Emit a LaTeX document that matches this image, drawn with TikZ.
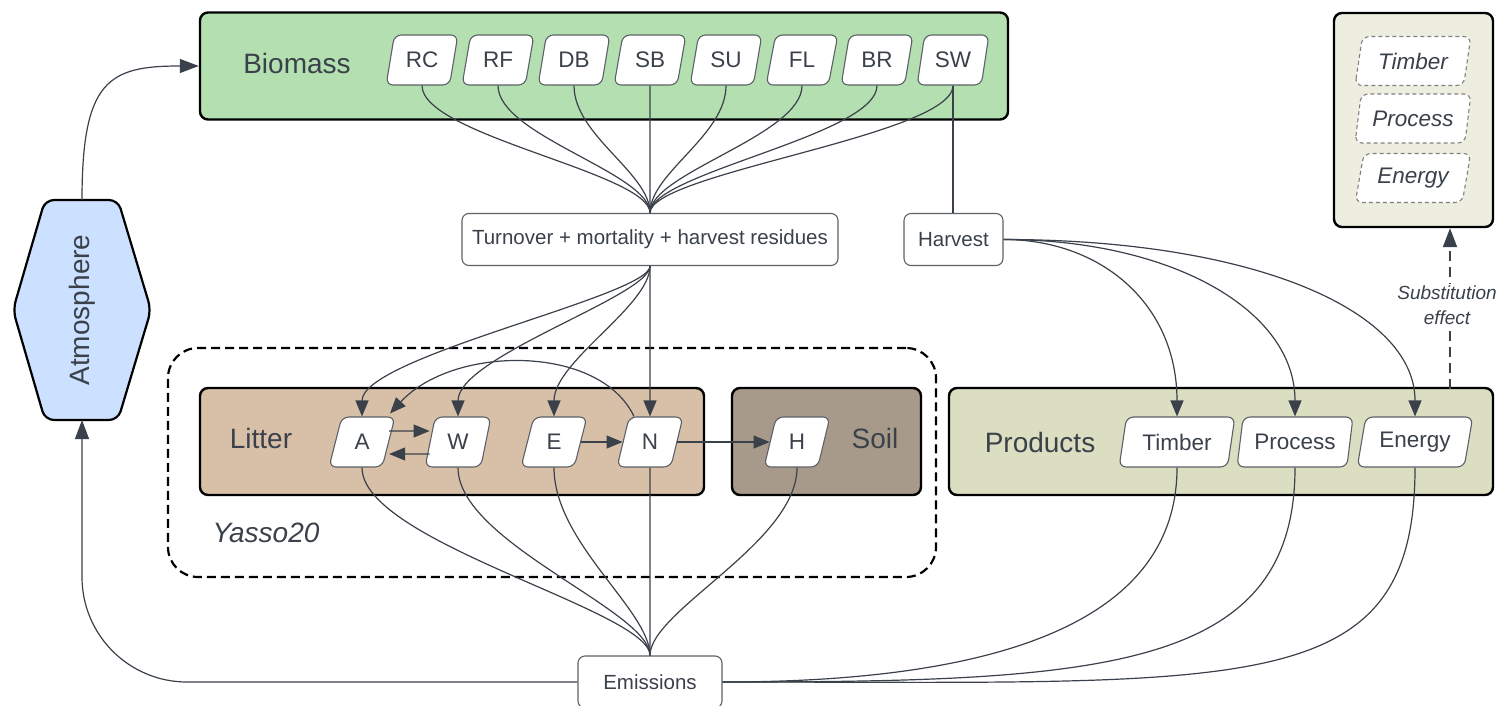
\documentclass[tikz,border=0pt]{standalone}
\usepackage{fontspec}
\setmainfont{Liberation Sans}
\usetikzlibrary{arrows.meta,shapes.geometric,calc}

\definecolor{ink}{HTML}{3A414A}
\definecolor{edgegray}{HTML}{5C6167}
\definecolor{biofill}{HTML}{B4DFB0}
\definecolor{atmfill}{HTML}{CCE1FF}
\definecolor{litfill}{HTML}{D8BFA8}
\definecolor{soilfill}{HTML}{A89A8A}
\definecolor{prodfill}{HTML}{DBDEC0}
\definecolor{subfill}{HTML}{EEEEE0}

\newcommand\bigfont{\fontsize{28}{33}\selectfont}
\newcommand\chipfont{\fontsize{22.5}{27}\selectfont}
\newcommand\midfont{\fontsize{20.5}{24}\selectfont}
\newcommand\notefont{\fontsize{19}{25}\selectfont\itshape}

\begin{document}
\begin{tikzpicture}[x=1pt,y=-1pt,
  panel/.style={draw=black, line width=2.4pt, rounded corners=8pt, inner sep=0pt},
  chip/.style={trapezium, trapezium left angle=73, trapezium right angle=107,
    trapezium stretches=true, minimum width=66pt, minimum height=50pt,
    rounded corners=7pt, draw=edgegray, fill=white, line width=1.1pt,
    inner sep=0pt, font=\chipfont, text=ink},
  biochip/.style={chip, minimum width=72pt},
  widechip/.style={chip, minimum width=116pt},
  ghostchip/.style={widechip, minimum height=49pt, draw=gray,
    dash pattern=on 4pt off 3pt, font=\chipfont\itshape},
  flowbox/.style={draw=edgegray, line width=1.1pt, rounded corners=7pt,
    fill=white, minimum height=52pt, inner sep=0pt, font=\midfont, text=ink},
  lbl/.style={font=\bigfont, text=ink},
  link/.style={draw=ink, line width=1.2pt},
  arr/.style={link, -{Triangle[length=16pt,width=13pt]}},
  bigarr/.style={link, -{Triangle[length=19pt,width=14pt]}}
]
\useasboundingbox (0,0) rectangle (1501,706);

% ---------- panels ----------
\node[panel, fill=biofill, minimum width=808pt, minimum height=107pt] (bio) at (604,66) {};
\node[lbl] (biolbl) at (297,63) {Biomass};

\node[draw, line width=2.2pt, dash pattern=on 9pt off 5pt, rounded corners=30pt,
      minimum width=768pt, minimum height=229pt] (yasso) at (552,462.5) {};
\node[lbl, font=\bigfont\itshape] (yassolbl) at (266,533) {Yasso20};

\node[panel, fill=litfill, minimum width=504pt, minimum height=107pt] (litter) at (452,441.5) {};
\node[lbl] (litlbl) at (261,438) {Litter};
\node[panel, fill=soilfill, minimum width=189pt, minimum height=107pt] (soil) at (826.5,441.5) {};
\node[lbl] (soillbl) at (875,438) {Soil};

\node[panel, fill=prodfill, minimum width=544pt, minimum height=107pt] (prod) at (1221,441.5) {};
\node[lbl] (prodlbl) at (1040,442) {Products};

\node[panel, fill=subfill, minimum width=159pt, minimum height=214pt] (sub) at (1413.5,120) {};

% ---------- atmosphere ----------
\draw[line width=2.2pt, fill=atmfill, rounded corners=9pt]
  (45,200) -- (118,200) -- (151,310) -- (118,420) -- (45,420) -- (13,310) -- cycle;
\node[lbl, rotate=90] (atm) at (82,310) {Atmosphere};
\coordinate (atmtop) at (82,200);
\coordinate (atmbot) at (82,420);

% ---------- biomass pools ----------
\node[biochip] (rc) at (422,60) {RC};
\node[biochip] (rf) at (498,60) {RF};
\node[biochip] (db) at (574,60) {DB};
\node[biochip] (sb) at (650,60) {SB};
\node[biochip] (su) at (726,60) {SU};
\node[biochip] (fl) at (802,60) {FL};
\node[biochip] (br) at (877,60) {BR};
\node[biochip] (sw) at (953,60) {SW};

% ---------- flow boxes ----------
\node[flowbox, minimum width=376pt] (turn) at (650,239.5) {Turnover + mortality + harvest residues};
\node[flowbox, minimum width=99pt] (harv) at (953.5,239.5) {Harvest};
\node[flowbox, minimum width=144pt] (em) at (650,682) {Emissions};

% ---------- litter and soil pools ----------
\node[chip] (a) at (362,442) {A};
\node[chip] (w) at (458,442) {W};
\node[chip] (e) at (554,442) {E};
\node[chip] (n) at (650,442) {N};
\node[chip] (h) at (797,442) {H};

% ---------- product pools ----------
\node[widechip] (tim) at (1177,442) {Timber};
\node[widechip] (proc) at (1295,442) {Process};
\node[widechip] (ener) at (1415,442) {Energy};

% ---------- substituted products ----------
\node[ghostchip] (stim) at (1413,61) {Timber};
\node[ghostchip] (sproc) at (1413,118.5) {Process};
\node[ghostchip] (sener) at (1413,178) {Energy};

% ---------- biomass to turnover / harvest ----------
\foreach \k in {rc,rf,db,su,fl,br,sw}
  \draw[link] (\k.south) .. controls +(0,50) and +(0,-40) .. (turn.north);
\draw[link] (sb.south) -- (turn.north);
\draw[link] (sw.south) -- (sw.south |- harv.north);

% ---------- turnover to litter ----------
\draw[arr] (turn.south) .. controls +(0,30) and +(0,-60) .. (a.north);
\draw[arr] (turn.south) .. controls +(0,30) and +(0,-60) .. (w.north);
\draw[arr] (turn.south) .. controls +(0,40) and +(0,-55) .. (e.north);
\draw[arr] (turn.south) -- (n.north);
\draw[arr] ([xshift=-16pt]n.north) .. controls +(-34,-72) and +(64,-69) .. ([xshift=28pt,yshift=3pt]a.north);

% ---------- transfers between pools ----------
\draw[arr] ([yshift=11pt]a.east) -- ([yshift=11pt]w.west);
\draw[arr] ([yshift=-12pt]w.west) -- ([yshift=-12pt]a.east);
\draw[arr] (e.east) -- (n.west);
\draw[arr] (n.east) -- (h.west);

% ---------- decomposition to emissions ----------
\foreach \k in {a,w,e,h}
  \draw[link] (\k.south) .. controls +(0,75) and +(0,-45) .. (em.north);
\draw[link] (n.south) -- (em.north);

% ---------- harvest to products ----------
\draw[arr] (harv.east) .. controls +(97,0) and +(0,-113) .. (tim.north);
\draw[arr] (harv.east) .. controls +(167,0) and +(0,-107) .. (proc.north);
\draw[arr] (harv.east) .. controls +(247,0) and +(0,-107) .. (ener.north);

% ---------- products to emissions ----------
\draw[link] (tim.south) .. controls +(0,173) and +(230,0) .. (em.east);
\draw[link] (proc.south) .. controls +(0,203) and +(380,0) .. (em.east);
\draw[link] (ener.south) .. controls +(0,233) and +(530,0) .. (em.east);

% ---------- atmosphere exchange ----------
\draw[bigarr] (atmtop) .. controls +(0,-120) and +(-90,0) .. (bio.west);
\draw[bigarr, rounded corners=105pt] (em.west) -| (atmbot);

% ---------- substitution effect ----------
\coordinate (subfoot) at (1450,389);
\draw[draw=ink, line width=2pt, dash pattern=on 10pt off 6pt,
      -{Triangle[length=19pt,width=14pt]}] (subfoot) -- (subfoot |- sub.south);
\node[fill=white, font=\notefont, text=ink, align=center, inner sep=2pt] (sublbl)
  at (1447,305) {Substitution\\effect};
\end{tikzpicture}
\end{document}
